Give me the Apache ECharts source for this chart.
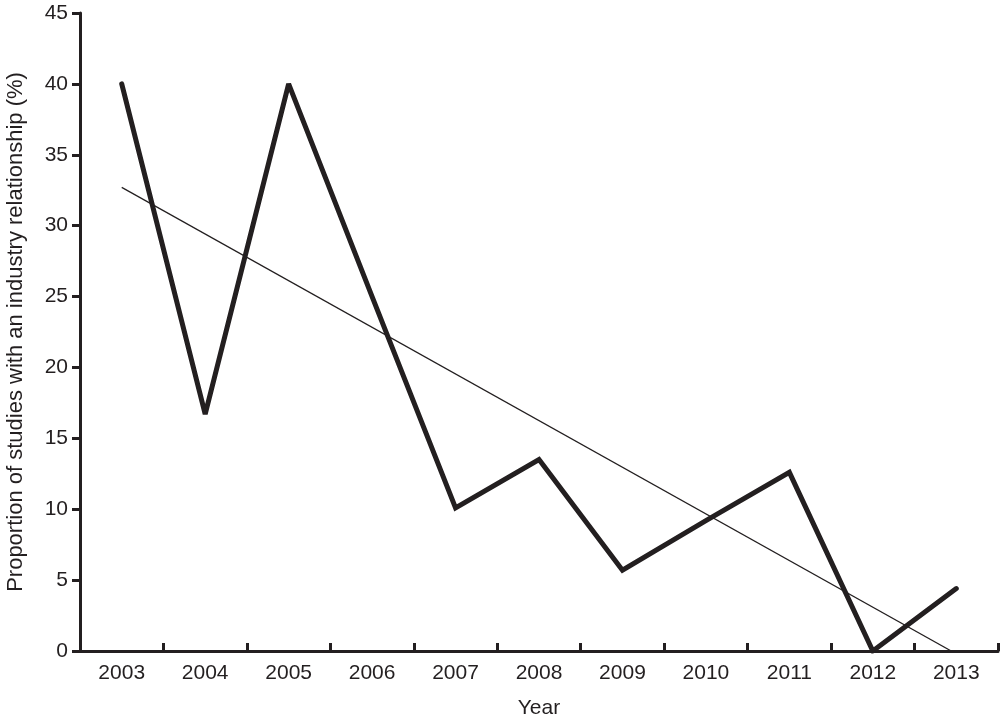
<!DOCTYPE html>
<html>
<head>
<meta charset="utf-8">
<script src="https://cdn.jsdelivr.net/npm/echarts@6/dist/echarts.min.js"></script>
<style>
html,body{margin:0;padding:0;background:#fff;}
#chart{width:1001px;height:721px;}
</style>
</head>
<body>
<div id="chart"></div>
<script>
const years = ['2003','2004','2005','2006','2007','2008','2009','2010','2011','2012','2013'];
const proportion = [40, 16.7, 40, 25, 10.1, 13.5, 5.7, 9.2, 12.6, 0, 4.4];
const trend = [32.7, null, null, null, null, null, null, null, null, null, -0.2];
const yTicks = [0, 45, 5];

const chart = echarts.init(document.getElementById('chart'), null, {renderer: 'canvas'});
const ink = '#231f20';
const font = 'Liberation Sans, Arial, Helvetica, sans-serif';
chart.setOption({
  animation: false,
  backgroundColor: '#fff',
  grid: {left: 80, right: 3, top: 13, bottom: 70, containLabel: false, outerBoundsMode: 'none'},
  xAxis: {
    type: 'category',
    data: years,
    boundaryGap: true,
    name: 'Year',
    nameLocation: 'middle',
    nameGap: 47,
    nameTextStyle: {color: ink, fontSize: 21, fontFamily: font},
    axisLine: {lineStyle: {color: ink, width: 3}},
    axisTick: {show: true, inside: true, length: 8, lineStyle: {color: ink, width: 3}, alignWithLabel: false},
    axisLabel: {color: ink, fontSize: 21, fontFamily: font, margin: 12},
    splitLine: {show: false}
  },
  yAxis: {
    type: 'value',
    min: yTicks[0], max: yTicks[1], interval: yTicks[2],
    name: 'Proportion of studies with an industry relationship (%)',
    nameLocation: 'middle',
    nameGap: 53,
    nameRotate: 90,
    nameTextStyle: {color: ink, fontSize: 22, fontFamily: font},
    axisLine: {show: true, lineStyle: {color: ink, width: 3}},
    axisTick: {show: true, inside: false, length: 8, lineStyle: {color: ink, width: 3}},
    axisLabel: {color: ink, fontSize: 21, fontFamily: font, margin: 12},
    splitLine: {show: false}
  },
  series: [
    {
      type: 'line',
      data: trend,
      connectNulls: true,
      showSymbol: false,
      symbol: 'none',
      clip: true,
      lineStyle: {color: ink, width: 1.2},
      z: 2
    },
    {
      type: 'line',
      data: proportion,
      showSymbol: false,
      symbol: 'none',
      lineStyle: {color: ink, width: 5, join: 'miter', miterLimit: 2, cap: 'round'},
      z: 3
    }
  ]
});
</script>
</body>
</html>
